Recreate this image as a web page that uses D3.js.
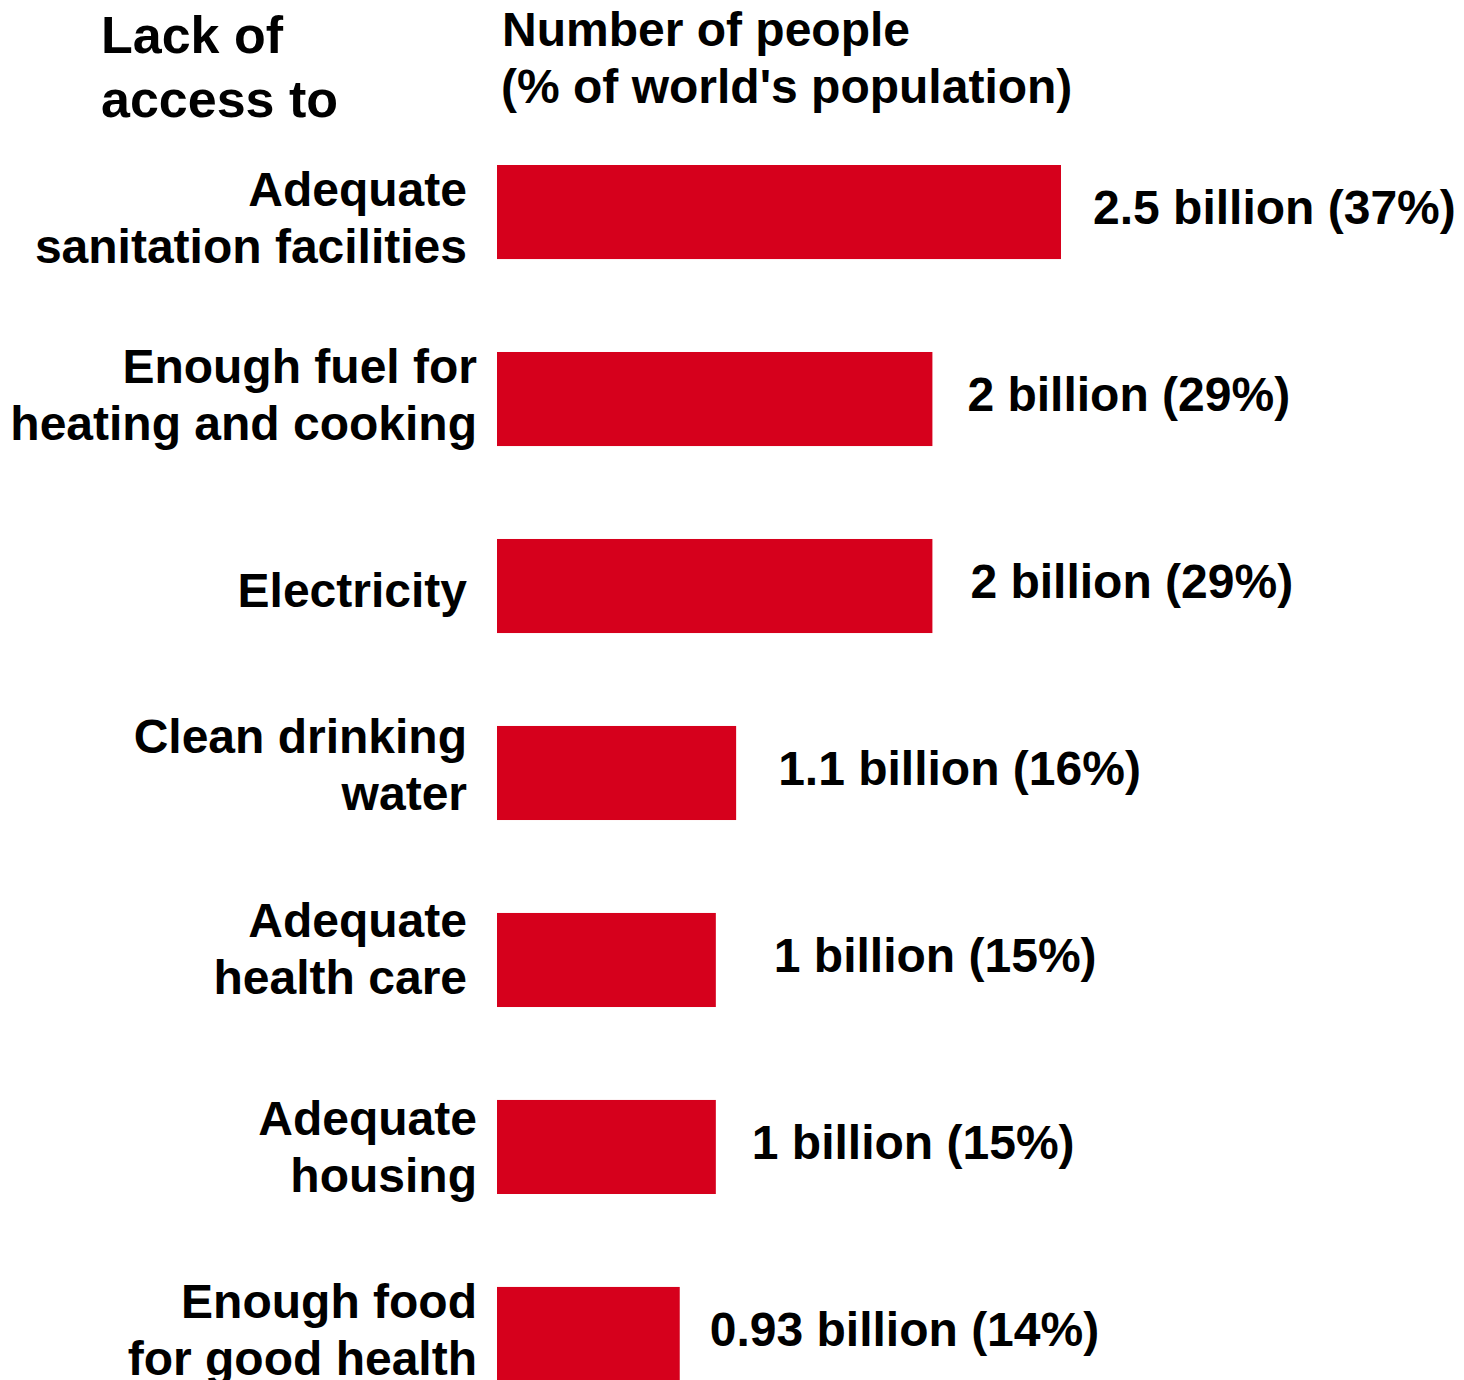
<!DOCTYPE html>
<html>
<head>
<meta charset="utf-8">
<script src="https://cdn.jsdelivr.net/npm/d3@7"></script>
<style>
  body { margin: 0; background: #fff; }
  text { font-family: "Liberation Sans", Arial, sans-serif; font-weight: bold; fill: #000; }
</style>
</head>
<body>
<svg width="1464" height="1380"></svg>
<script>
// categories (each line of the label), shown value text and bar length as drawn (billions)
const categories = [
  ['Adequate', 'sanitation facilities'],
  ['Enough fuel for', 'heating and cooking'],
  ['Electricity'],
  ['Clean drinking', 'water'],
  ['Adequate', 'health care'],
  ['Adequate', 'housing'],
  ['Enough food', 'for good health']
];
const valueLabels = ['2.5 billion (37%)', '2 billion (29%)', '2 billion (29%)', '1.1 billion (16%)',
  '1 billion (15%)', '1 billion (15%)', '0.93 billion (14%)'];
const barLength = [2.5, 1.93, 1.93, 1.06, 0.97, 0.97, 0.81];

const svg = d3.select('svg');
const left = 497;
const rows = categories.map((c, i) => ({ id: i, lines: c, label: valueLabels[i], len: barLength[i] }));

const x = d3.scaleLinear().domain([0, 2.5]).range([left, 1061]);
const y = d3.scaleBand().domain(rows.map(d => d.id)).range([165, 1381]).paddingInner(0.497).paddingOuter(0);

// small hand nudges so the labels sit where the original put them
const labelRight = [467, 477, 467, 467, 467, 477, 477];
const labelShift = [10, 0, 0, -4, -7, 4, 0];
const valueGap = [32, 35, 38, 42, 58, 36, 30];

// headings
const head = svg.append('g');
head.append('text').attr('x', 101).attr('y', 53).attr('font-size', 52).text('Lack of');
head.append('text').attr('x', 101).attr('y', 117).attr('font-size', 52).text('access to');
head.append('text').attr('x', 502).attr('y', 46).attr('font-size', 48).text('Number of people');
head.append('text').attr('x', 501).attr('y', 103).attr('font-size', 48).text("(% of world's population)");

const g = svg.selectAll('.row').data(rows).enter().append('g').attr('class', 'row');

g.append('rect')
  .attr('x', x(0))
  .attr('y', d => y(d.id))
  .attr('width', d => x(d.len) - x(0))
  .attr('height', y.bandwidth())
  .attr('fill', '#d6001c');

g.append('text')
  .attr('text-anchor', 'end')
  .attr('font-size', 48)
  .attr('x', d => labelRight[d.id])
  .each(function(d) {
    const mid = y(d.id) + y.bandwidth() / 2 + labelShift[d.id];
    const t = d3.select(this);
    if (d.lines.length === 1) {
      t.append('tspan').attr('x', t.attr('x')).attr('y', mid + 21).text(d.lines[0]);
    } else {
      d.lines.forEach((l, j) => {
        t.append('tspan').attr('x', t.attr('x')).attr('y', mid - 16 + j * 57).text(l);
      });
    }
  });

g.append('text')
  .attr('font-size', 48)
  .attr('x', d => x(d.len) + valueGap[d.id])
  .attr('y', d => y(d.id) + y.bandwidth() / 2 + 12)
  .text(d => d.label);
</script>
</body>
</html>
